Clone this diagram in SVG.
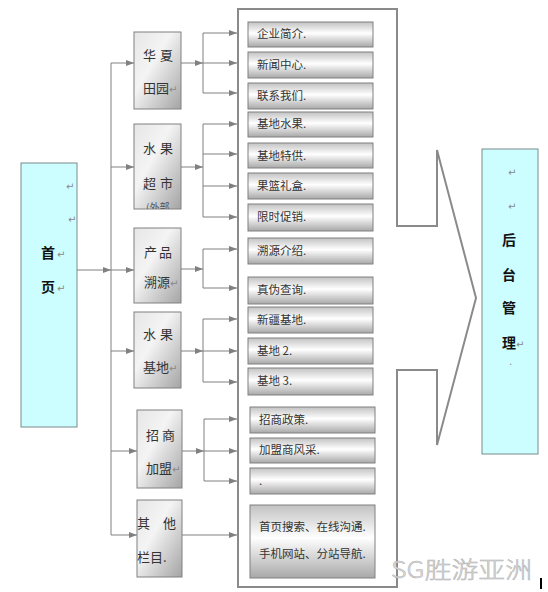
<svg xmlns="http://www.w3.org/2000/svg" width="548" height="592" viewBox="0 0 548 592">
<style>
.cn{font-family:"Noto Sans CJK SC","Liberation Sans",sans-serif;}
.t2{font-size:13px;fill:#333;}
.t3{font-size:11.5px;fill:#333;}
.b{font-size:14px;font-weight:bold;fill:#111;}
.rm{font-family:"DejaVu Sans",sans-serif;font-size:10px;fill:#888;}
.l2{fill:url(#g2);stroke:#808080;stroke-width:1;}
.l3{fill:url(#g3);stroke:#808080;stroke-width:1;}
.cy{fill:#ccfdff;stroke:#7a8c8c;stroke-width:1;}
.c{stroke:#808080;stroke-width:1;fill:none;}
.a{marker-end:url(#ar);}
</style>
<defs>
<linearGradient id="g2" x1="0" y1="0" x2="1" y2="1">
<stop offset="0" stop-color="#e6e6e6"/>
<stop offset="0.4" stop-color="#f4f4f4"/>
<stop offset="1" stop-color="#a4a4a4"/>
</linearGradient>
<linearGradient id="g3" x1="0" y1="0" x2="0" y2="1">
<stop offset="0" stop-color="#c2c2c2"/>
<stop offset="0.45" stop-color="#ffffff"/>
<stop offset="1" stop-color="#a8a8a8"/>
</linearGradient>
<marker id="ar" viewBox="0 0 8 6" refX="8" refY="3" markerWidth="8" markerHeight="6" markerUnits="userSpaceOnUse" orient="auto">
<path d="M0,0 L8,3 L0,6 z" fill="#808080"/>
</marker>
<clipPath id="cb2"><rect x="134" y="124" width="47" height="85"/></clipPath>
</defs>

<g id="container">
<path d="M238,9 L397,9 L397,226 L437,226 L437,150 L476,298 L437,445 L437,370 L397,370 L397,587 L238,587 Z" fill="#fff" stroke="#8a8a8a" stroke-width="2"/>
</g>

<g id="connectors">
<path class="c a" d="M77,270 H111"/>
<path class="c" d="M111,63 V535"/>
<path class="c a" d="M111,63 H134"/>
<path class="c a" d="M111,167 H134"/>
<path class="c a" d="M111,270 H134"/>
<path class="c a" d="M111,351 H134"/>
<path class="c a" d="M111,451 H137"/>
<path class="c a" d="M111,535 H137"/>

<path class="c a" d="M181,63 H203"/>
<path class="c" d="M203,33 V93"/>
<path class="c a" d="M203,33 H237"/>
<path class="c a" d="M203,63 H237"/>
<path class="c a" d="M203,93 H237"/>

<path class="c a" d="M181,167 H203"/>
<path class="c" d="M203,124 V217"/>
<path class="c a" d="M203,124 H237"/>
<path class="c a" d="M203,154 H237"/>
<path class="c a" d="M203,186 H237"/>
<path class="c a" d="M203,217 H237"/>

<path class="c a" d="M181,269 H203"/>
<path class="c" d="M203,249 V288"/>
<path class="c a" d="M203,249 H237"/>
<path class="c a" d="M203,288 H237"/>

<path class="c a" d="M181,351 H203"/>
<path class="c" d="M203,319 V382"/>
<path class="c a" d="M203,319 H237"/>
<path class="c a" d="M203,351 H237"/>
<path class="c a" d="M203,382 H237"/>

<path class="c a" d="M182,451 H204"/>
<path class="c" d="M204,419 V481"/>
<path class="c a" d="M204,419 H237"/>
<path class="c a" d="M204,451 H237"/>
<path class="c a" d="M204,481 H237"/>

<path class="c a" d="M182,535 H237"/>
</g>

<g id="home">
<rect class="cy" x="21" y="163" width="56" height="264"/>
<text class="rm" x="66" y="190">↵</text>
<text class="rm" x="68" y="223">↵</text>
<text class="cn b" x="41" y="258">首</text>
<text class="rm" x="57" y="258">↵</text>
<text class="cn b" x="41" y="292">页</text>
<text class="rm" x="57" y="292">↵</text>
</g>

<g id="backend">
<rect class="cy" x="482" y="149" width="56" height="305"/>
<text class="rm" x="508" y="176">↵</text>
<text class="rm" x="508" y="210">↵</text>
<text class="cn b" x="502" y="245">后</text>
<text class="cn b" x="502" y="280">台</text>
<text class="cn b" x="502" y="313">管</text>
<text class="cn b" x="502" y="348">理</text>
<text class="rm" x="516" y="348">↵</text>
<text class="rm" x="509" y="365">.</text>
</g>

<g id="n-huaxia">
<rect class="l2" x="134" y="32" width="47" height="77"/>
<text class="cn t2" x="143 160" y="60">华夏</text>
<text class="cn t2" x="143" y="93">田园</text>
<text class="rm" x="169" y="93">↵</text>
</g>
<g id="n-shuiguochaoshi">
<rect class="l2" x="134" y="124" width="47" height="85"/>
<text class="cn t2" x="143 160" y="153">水果</text>
<text class="cn t2" x="143 160" y="188">超市</text>
<g clip-path="url(#cb2)"><text class="cn" font-size="10" fill="#555" x="146" y="211">(外部</text></g>
</g>
<g id="n-chanpin">
<rect class="l2" x="134" y="228" width="47" height="75"/>
<text class="cn t2" x="144 159" y="257">产品</text>
<text class="cn t2" x="144" y="287">溯源</text>
<text class="rm" x="170" y="287">↵</text>
</g>
<g id="n-jidi">
<rect class="l2" x="134" y="312" width="47" height="76"/>
<text class="cn t2" x="143 160" y="339">水果</text>
<text class="cn t2" x="143" y="372">基地</text>
<text class="rm" x="169" y="372">↵</text>
</g>
<g id="n-zhaoshang">
<rect class="l2" x="137" y="410" width="45" height="78"/>
<text class="cn t2" x="146 162" y="440">招商</text>
<text class="cn t2" x="146" y="473">加盟</text>
<text class="rm" x="172" y="473">↵</text>
</g>
<g id="n-qita">
<rect class="l2" x="137" y="500" width="45" height="77"/>
<text class="cn t2" x="137 163" y="528">其他</text>
<text class="cn t2" x="137" y="562">栏目.</text>
</g>

<g id="n-l3">
<rect class="l3" x="248" y="22" width="125" height="25"/>
<text class="cn t3" x="257" y="38">企业简介.</text>
<rect class="l3" x="248" y="52" width="125" height="26"/>
<text class="cn t3" x="257" y="69">新闻中心.</text>
<rect class="l3" x="248" y="83" width="125" height="26"/>
<text class="cn t3" x="257" y="100">联系我们.</text>
<rect class="l3" x="248" y="112" width="125" height="25"/>
<text class="cn t3" x="257" y="128">基地水果.</text>
<rect class="l3" x="248" y="143" width="125" height="25"/>
<text class="cn t3" x="257" y="160">基地特供.</text>
<rect class="l3" x="248" y="173" width="125" height="26"/>
<text class="cn t3" x="257" y="190">果篮礼盒.</text>
<rect class="l3" x="248" y="204" width="125" height="27"/>
<text class="cn t3" x="257" y="221">限时促销.</text>
<rect class="l3" x="248" y="238" width="125" height="26"/>
<text class="cn t3" x="257" y="255">溯源介绍.</text>
<rect class="l3" x="248" y="277" width="125" height="27"/>
<text class="cn t3" x="257" y="294">真伪查询.</text>
<rect class="l3" x="248" y="307" width="125" height="26"/>
<text class="cn t3" x="257" y="324">新疆基地.</text>
<rect class="l3" x="248" y="338" width="125" height="26"/>
<text class="cn t3" x="257" y="355">基地 2.</text>
<rect class="l3" x="248" y="368" width="125" height="27"/>
<text class="cn t3" x="257" y="385">基地 3.</text>
<rect class="l3" x="250" y="407" width="125" height="26"/>
<text class="cn t3" x="259" y="424">招商政策.</text>
<rect class="l3" x="250" y="438" width="125" height="25"/>
<text class="cn t3" x="259" y="454">加盟商风采.</text>
<rect class="l3" x="250" y="468" width="125" height="26"/>
<text class="cn t3" x="259" y="485">.</text>
<rect class="l3" x="250" y="505" width="125" height="73"/>
<text class="cn t3" x="259" y="531">首页搜索、在线沟通.</text>
<text class="cn t3" x="259" y="558">手机网站、分站导航.</text>
</g>

<text class="cn" x="391" y="578" font-size="23" font-weight="300" fill="#e2e2e2" stroke="#b0b0b0" stroke-width="0.5" textLength="141" lengthAdjust="spacingAndGlyphs">SG胜游亚洲</text>
<rect x="540" y="578" width="2" height="11" fill="#000"/>
</svg>
